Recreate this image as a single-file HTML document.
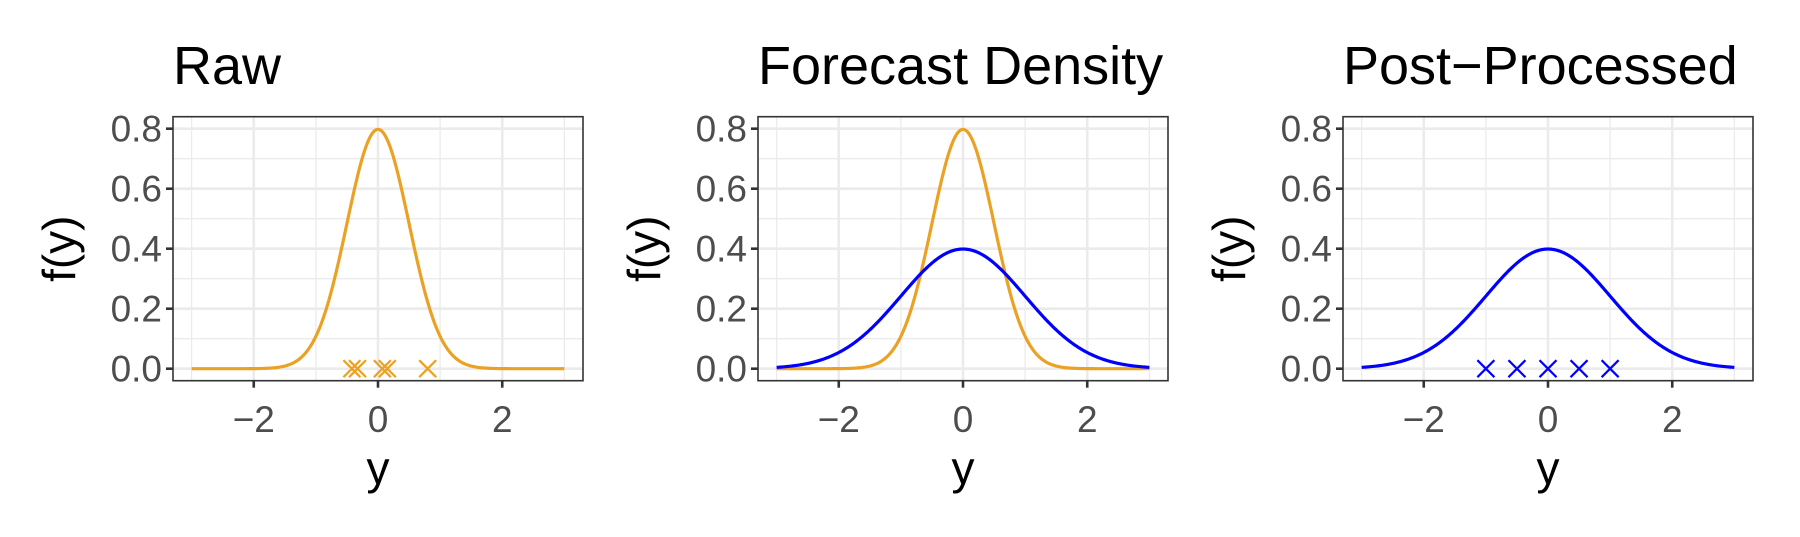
<!DOCTYPE html>
<html><head><meta charset="utf-8">
<style>
html,body{margin:0;padding:0;background:#fff;}
svg{display:block;font-family:"Liberation Sans",Arial,sans-serif;}
</style></head>
<body>
<svg id="chart" width="1800" height="537" viewBox="0 0 1800 537" xmlns="http://www.w3.org/2000/svg"></svg>
<script>
// ---- data ----
const panelTitles = ["Raw", "Forecast Density", "Post\u2212Processed"];
const xTicks = [-2, 0, 2];
const xTickLabels = ["\u22122", "0", "2"];
const yTicks = [0, 0.2, 0.4, 0.6, 0.8];
const yTickLabels = ["0.0", "0.2", "0.4", "0.6", "0.8"];
const rawMean = 0, rawSd = 0.5;
const ppMean = 0, ppSd = 1;
const rawSamples = [-0.42, -0.33, 0.07, 0.15, 0.8];
const ppSamples = [-1, -0.5, 0, 0.5, 1];
const xMin = -3.3, xMax = 3.3, yMin = -0.04, yMax = 0.84;

const panelLefts = [173, 758, 1343];
const PW = 410, PT = 116.7, PH = 264;
const ORANGE = "#EBA224", BLUE = "#0000FF";
const NS = "http://www.w3.org/2000/svg";
const svg = document.getElementById('chart');

function mk(tag, attrs, parent) {
  const e = document.createElementNS(NS, tag);
  for (const k in attrs) e.setAttribute(k, attrs[k]);
  (parent || svg).appendChild(e);
  return e;
}
function dnorm(x, m, s) { return Math.exp(-0.5 * ((x - m) / s) ** 2) / (s * Math.sqrt(2 * Math.PI)); }

function drawPanel(i, curves, samples, sampleColor) {
  const L = panelLefts[i];
  const sx = v => L + (v - xMin) / (xMax - xMin) * PW;
  const sy = v => PT + PH - (v - yMin) / (yMax - yMin) * PH;
  const g = mk('g', {});
  
  

  const t = mk('text', {x: L, y: 84, 'font-size': 54, fill: '#000'}, g);
  t.textContent = panelTitles[i];
  
  

  [-3, -1, 1, 3].forEach(v => mk('line', {x1: sx(v), x2: sx(v), y1: PT, y2: PT + PH, stroke: '#EBEBEB', 'stroke-width': 1.3}, g));
  [0.1, 0.3, 0.5, 0.7].forEach(v => mk('line', {x1: L, x2: L + PW, y1: sy(v), y2: sy(v), stroke: '#EBEBEB', 'stroke-width': 1.3}, g));
  xTicks.forEach(v => mk('line', {x1: sx(v), x2: sx(v), y1: PT, y2: PT + PH, stroke: '#EBEBEB', 'stroke-width': 2.6}, g));
  yTicks.forEach(v => mk('line', {x1: L, x2: L + PW, y1: sy(v), y2: sy(v), stroke: '#EBEBEB', 'stroke-width': 2.6}, g));

  curves.forEach(c => {
    let d = '';
    for (let k = 0; k <= 300; k++) {
      const x = -3 + 6 * k / 300;
      d += (k ? 'L' : 'M') + sx(x).toFixed(2) + ',' + sy(dnorm(x, c.m, c.s)).toFixed(2);
    }
    const p = mk('path', {d: d, fill: 'none', stroke: c.color, 'stroke-width': 3.2}, g);
    
    
  });

  samples.forEach(v => {
    const cx = sx(v), cy = sy(0), r = 8.5;
    const m = mk('path', {d: `M${cx - r},${cy - r}L${cx + r},${cy + r}M${cx - r},${cy + r}L${cx + r},${cy - r}`, stroke: sampleColor, 'stroke-width': 2.2, fill: 'none'}, g);
    
    
  });

  mk('rect', {x: L, y: PT, width: PW, height: PH, fill: 'none', stroke: '#333', 'stroke-width': 1.6}, g);

  xTicks.forEach((v, k) => {
    mk('line', {x1: sx(v), x2: sx(v), y1: PT + PH, y2: PT + PH + 7, stroke: '#333', 'stroke-width': 2.6}, g);
    const tl = mk('text', {x: sx(v), y: 432, 'font-size': 37, fill: '#4D4D4D', 'text-anchor': 'middle'}, g);
    tl.textContent = xTickLabels[k];
    
    
  });
  yTicks.forEach((v, k) => {
    mk('line', {x1: L - 7, x2: L, y1: sy(v), y2: sy(v), stroke: '#333', 'stroke-width': 2.6}, g);
    const tl = mk('text', {x: L - 11, y: sy(v) + 13, 'font-size': 37, fill: '#4D4D4D', 'text-anchor': 'end'}, g);
    tl.textContent = yTickLabels[k];
    
    
  });

  const xt = mk('text', {x: L + PW / 2, y: 484, 'font-size': 46, fill: '#000', 'text-anchor': 'middle'}, g);
  xt.textContent = 'y';
  
  
  const yy = PT + PH / 2, yx = L - 98;
  const yt = mk('text', {x: yx, y: yy, 'font-size': 46, fill: '#000', 'text-anchor': 'middle', transform: `rotate(-90 ${yx} ${yy})`}, g);
  yt.textContent = 'f(y)';
  
  
}

drawPanel(0, [{m: rawMean, s: rawSd, color: ORANGE, name: 'raw-density-line'}], rawSamples, ORANGE);
drawPanel(1, [{m: rawMean, s: rawSd, color: ORANGE, name: 'raw-density-line'}, {m: ppMean, s: ppSd, color: BLUE, name: 'post-processed-density-line'}], [], BLUE);
drawPanel(2, [{m: ppMean, s: ppSd, color: BLUE, name: 'post-processed-density-line'}], ppSamples, BLUE);
</script>
</body></html>
